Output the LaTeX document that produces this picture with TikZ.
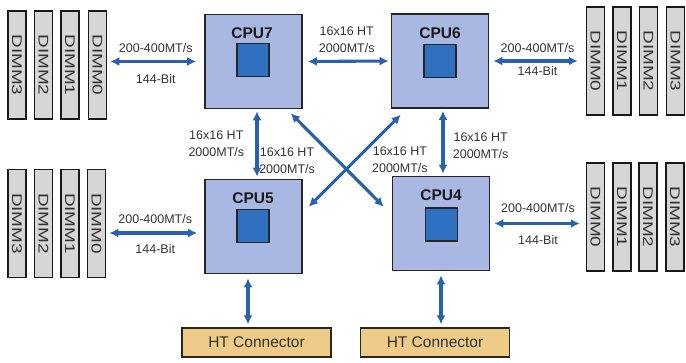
\documentclass[tikz,border=0pt]{standalone}
\usepackage{fontspec}
\setmainfont{Liberation Sans}
\usepackage{graphicx}
\usetikzlibrary{positioning,arrows.meta,calc}
\definecolor{cpublue}{RGB}{168,184,226}
\definecolor{chipblue}{RGB}{48,112,192}
\definecolor{linkblue}{RGB}{40,98,168}
\definecolor{dimmgray}{RGB}{214,214,214}
\definecolor{conntan}{RGB}{238,203,134}
\definecolor{labelgray}{RGB}{50,50,50}
\newcommand{\dimmname}[1]{\rotatebox{-90}{\scalebox{1.35}[1]{#1}}}
\tikzset{
cpu/.style={rectangle, draw=black!85, line width=1.6pt, fill=cpublue, minimum width=97pt, minimum height=94pt, inner sep=0pt},
chip/.style={rectangle, draw=black!85, line width=1.4pt, fill=chipblue, minimum width=32pt, minimum height=33pt, inner sep=0pt},
cpulabel/.style={font=\fontsize{15.5}{16}\selectfont\bfseries, text=black!90},
dimm/.style={rectangle, draw=black!90, line width=1.5pt, fill=dimmgray, minimum width=18pt, minimum height=108pt, inner sep=0pt, font=\fontsize{14}{14}\selectfont, text=labelgray},
htconn/.style={rectangle, draw=black!85, line width=1.4pt, fill=conntan, minimum width=149pt, minimum height=29pt, font=\fontsize{15.5}{16}\selectfont, text=labelgray},
link/.style={<->, >={Latex[width=9pt,length=9pt]}, draw=linkblue, line width=3.1pt, shorten <=2pt, shorten >=2pt},
speed/.style={font=\fontsize{12.5}{17}\selectfont, text=labelgray, align=center},
}

\begin{document}
\begin{tikzpicture}[x=1pt, y=-1pt]

    \useasboundingbox (0,0) rectangle (686,362);

    \node[cpu] (CPU_7) at (253.5,61.5) {};
    \node[cpu] (CPU_6) at (440,61) {};
    \node[cpu] (CPU_5) at (253.5,226.5) {};
    \node[cpu] (CPU_4) at (441,223.5) {};

    \node[chip] (CHIP_7) at (253,60) {};
    \node[chip] (CHIP_6) at (440,61) {};
    \node[chip] (CHIP_5) at (253,226) {};
    \node[chip] (CHIP_4) at (441.5,224.5) {};

    \node[cpulabel] (LBL_7) at (252,33) {CPU7};
    \node[cpulabel] (LBL_6) at (440,33) {CPU6};
    \node[cpulabel] (LBL_5) at (253,198) {CPU5};
    \node[cpulabel] (LBL_4) at (441,195) {CPU4};

    \node[dimm] (DIMM_TL3) at (17,65) {\dimmname{DIMM3}};
    \node[dimm] (DIMM_TL2) at (43.5,65) {\dimmname{DIMM2}};
    \node[dimm] (DIMM_TL1) at (70,65) {\dimmname{DIMM1}};
    \node[dimm] (DIMM_TL0) at (97.5,65) {\dimmname{DIMM0}};

    \node[dimm] (DIMM_BL3) at (17,223.5) {\dimmname{DIMM3}};
    \node[dimm] (DIMM_BL2) at (43.5,223.5) {\dimmname{DIMM2}};
    \node[dimm] (DIMM_BL1) at (70,223.5) {\dimmname{DIMM1}};
    \node[dimm] (DIMM_BL0) at (96.5,223.5) {\dimmname{DIMM0}};

    \node[dimm] (DIMM_TR0) at (595.5,61) {\dimmname{DIMM0}};
    \node[dimm] (DIMM_TR1) at (622,61) {\dimmname{DIMM1}};
    \node[dimm] (DIMM_TR2) at (648.5,61) {\dimmname{DIMM2}};
    \node[dimm] (DIMM_TR3) at (675.5,61) {\dimmname{DIMM3}};

    \node[dimm] (DIMM_BR0) at (595.5,217) {\dimmname{DIMM0}};
    \node[dimm] (DIMM_BR1) at (622,217) {\dimmname{DIMM1}};
    \node[dimm] (DIMM_BR2) at (648,217) {\dimmname{DIMM2}};
    \node[dimm] (DIMM_BR3) at (675,217) {\dimmname{DIMM3}};

    \node[htconn] (HT_1) at (256.5,342.5) {HT Connector};
    \node[htconn] (HT_2) at (435,342.5) {HT Connector};

    \draw[link, shorten <=3pt, shorten >=8pt] (DIMM_TL0.east |- CPU_7.west) to node[speed, above=4pt] {200-400MT/s} node[speed, below=8pt] {144-Bit} (CPU_7.west) ;
    \draw[link, shorten <=3pt, shorten >=7pt] ([shift={(0,9.5)}]DIMM_BL0.east) to node[speed, above=4pt] {200-400MT/s} node[speed, below=7pt] {144-Bit} ([shift={(0,6.5)}]CPU_5.west) ;
    \draw[link, shorten <=4pt, shorten >=8pt] (CPU_6.east) to node[speed, above=3pt] {200-400MT/s} node[speed, below=1pt] {144-Bit} (DIMM_TR0.west |- CPU_6.east) ;
    \draw[link, shorten <=4pt, shorten >=6pt] (CPU_4.east) to node[speed, above=6pt] {200-400MT/s} node[speed, below=7pt] {144-Bit} (DIMM_BR0.west |- CPU_4.east) ;

    \draw[link, shorten <=5pt] (CPU_7.east) to node[speed, above=4pt] {16x16 HT\\2000MT/s} (CPU_6.west) ;
    \draw[link] ([shift={(3.5,0)}]CPU_7.south) to node[speed, left=8pt] {16x16 HT\\2000MT/s} ([shift={(3.5,0)}]CPU_5.north) ;
    \draw[link] ([shift={(3,0)}]CPU_6.south) to node[speed, pos=0.55, right=5pt] {16x16 HT\\2000MT/s} ([shift={(2,0)}]CPU_4.north) ;

    \draw[link, shorten <=0pt, shorten >=0pt] ([shift={(-12,4)}]CPU_7.south east) to node[speed, pos=0.5, right=30pt] {16x16 HT\\2000MT/s} ([shift={(-8,31)}]CPU_4.north west) ;
    \draw[link, shorten <=0pt, shorten >=0pt] ([shift={(10,6)}]CPU_6.south west) to node[speed, pos=0.5, left=35pt] {16x16 HT\\2000MT/s} ([shift={(6,28)}]CPU_5.north east) ;

    \draw[link, shorten <=4pt, shorten >=3pt] ([shift={(-5.5,0)}]CPU_5.south) to ([shift={(-8.5,0)}]HT_1.north) ;
    \draw[link, shorten <=4pt, shorten >=3pt] (CPU_4.south) to (HT_2.north -| CPU_4.south) ;
\end{tikzpicture}
\end{document}
